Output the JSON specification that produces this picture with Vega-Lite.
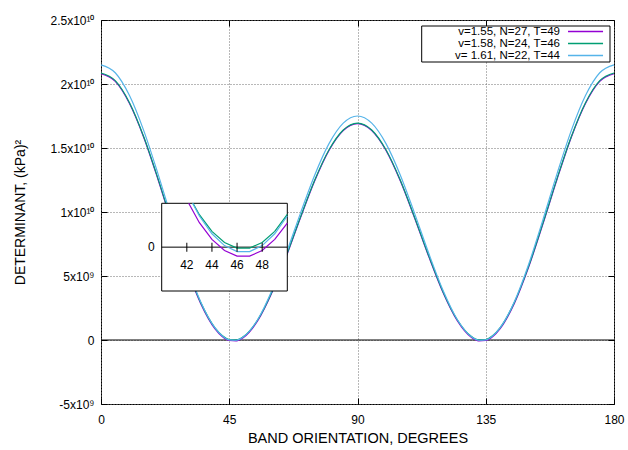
{
  "$schema": "https://vega.github.io/schema/vega-lite/v6.json",
  "width": 513,
  "height": 384,
  "autosize": {"type": "none"},
  "padding": {"left": 101, "top": 20, "right": 14, "bottom": 46},
  "background": "white",
  "config": {
    "font": "Liberation Sans",
    "view": {"stroke": "black", "strokeWidth": 1},
    "axis": {"labelFont": "Liberation Sans", "titleFont": "Liberation Sans", "labelColor": "black", "titleColor": "black", "titleFontWeight": "normal", "tickColor": "black", "domainColor": "black", "labelFlush": false}
  },
  "datasets": {
    "curves": [
      {"theta":0,"det":20.80e9,"series":"v=1.55, N=27, T=49"},{"theta":5,"det":20.20e9,"series":"v=1.55, N=27, T=49"},{"theta":10,"det":18.47e9,"series":"v=1.55, N=27, T=49"},{"theta":15,"det":15.82e9,"series":"v=1.55, N=27, T=49"},{"theta":20,"det":12.54e9,"series":"v=1.55, N=27, T=49"},{"theta":25,"det":9.02e9,"series":"v=1.55, N=27, T=49"},{"theta":30,"det":5.66e9,"series":"v=1.55, N=27, T=49"},{"theta":35,"det":2.84e9,"series":"v=1.55, N=27, T=49"},{"theta":40,"det":0.868e9,"series":"v=1.55, N=27, T=49"},{"theta":42.5,"det":0.274e9,"series":"v=1.55, N=27, T=49"},{"theta":45,"det":-0.04e9,"series":"v=1.55, N=27, T=49"},{"theta":47.5,"det":-0.067e9,"series":"v=1.55, N=27, T=49"},{"theta":50,"det":0.191e9,"series":"v=1.55, N=27, T=49"},{"theta":55,"det":1.503e9,"series":"v=1.55, N=27, T=49"},{"theta":60,"det":3.708e9,"series":"v=1.55, N=27, T=49"},{"theta":65,"det":6.512e9,"series":"v=1.55, N=27, T=49"},{"theta":70,"det":9.551e9,"series":"v=1.55, N=27, T=49"},{"theta":75,"det":12.439e9,"series":"v=1.55, N=27, T=49"},{"theta":80,"det":14.808e9,"series":"v=1.55, N=27, T=49"},{"theta":85,"det":16.36e9,"series":"v=1.55, N=27, T=49"},{"theta":90,"det":16.90e9,"series":"v=1.55, N=27, T=49"},{"theta":95,"det":16.36e9,"series":"v=1.55, N=27, T=49"},{"theta":100,"det":14.808e9,"series":"v=1.55, N=27, T=49"},{"theta":105,"det":12.439e9,"series":"v=1.55, N=27, T=49"},{"theta":110,"det":9.551e9,"series":"v=1.55, N=27, T=49"},{"theta":115,"det":6.512e9,"series":"v=1.55, N=27, T=49"},{"theta":120,"det":3.708e9,"series":"v=1.55, N=27, T=49"},{"theta":125,"det":1.503e9,"series":"v=1.55, N=27, T=49"},{"theta":130,"det":0.191e9,"series":"v=1.55, N=27, T=49"},{"theta":132.5,"det":-0.067e9,"series":"v=1.55, N=27, T=49"},{"theta":135,"det":-0.04e9,"series":"v=1.55, N=27, T=49"},{"theta":137.5,"det":0.274e9,"series":"v=1.55, N=27, T=49"},{"theta":140,"det":0.868e9,"series":"v=1.55, N=27, T=49"},{"theta":145,"det":2.84e9,"series":"v=1.55, N=27, T=49"},{"theta":150,"det":5.66e9,"series":"v=1.55, N=27, T=49"},{"theta":155,"det":9.02e9,"series":"v=1.55, N=27, T=49"},{"theta":160,"det":12.54e9,"series":"v=1.55, N=27, T=49"},{"theta":165,"det":15.82e9,"series":"v=1.55, N=27, T=49"},{"theta":170,"det":18.47e9,"series":"v=1.55, N=27, T=49"},{"theta":175,"det":20.20e9,"series":"v=1.55, N=27, T=49"},{"theta":180,"det":20.80e9,"series":"v=1.55, N=27, T=49"},
      {"theta":0,"det":20.86e9,"series":"v=1.58, N=24, T=46"},{"theta":5,"det":20.26e9,"series":"v=1.58, N=24, T=46"},{"theta":10,"det":18.54e9,"series":"v=1.58, N=24, T=46"},{"theta":15,"det":15.88e9,"series":"v=1.58, N=24, T=46"},{"theta":20,"det":12.61e9,"series":"v=1.58, N=24, T=46"},{"theta":25,"det":9.09e9,"series":"v=1.58, N=24, T=46"},{"theta":30,"det":5.73e9,"series":"v=1.58, N=24, T=46"},{"theta":35,"det":2.92e9,"series":"v=1.58, N=24, T=46"},{"theta":40,"det":0.949e9,"series":"v=1.58, N=24, T=46"},{"theta":42.5,"det":0.353e9,"series":"v=1.58, N=24, T=46"},{"theta":45,"det":0.04e9,"series":"v=1.58, N=24, T=46"},{"theta":47.5,"det":0.013e9,"series":"v=1.58, N=24, T=46"},{"theta":50,"det":0.269e9,"series":"v=1.58, N=24, T=46"},{"theta":55,"det":1.578e9,"series":"v=1.58, N=24, T=46"},{"theta":60,"det":3.778e9,"series":"v=1.58, N=24, T=46"},{"theta":65,"det":6.578e9,"series":"v=1.58, N=24, T=46"},{"theta":70,"det":9.612e9,"series":"v=1.58, N=24, T=46"},{"theta":75,"det":12.496e9,"series":"v=1.58, N=24, T=46"},{"theta":80,"det":14.861e9,"series":"v=1.58, N=24, T=46"},{"theta":85,"det":16.411e9,"series":"v=1.58, N=24, T=46"},{"theta":90,"det":16.95e9,"series":"v=1.58, N=24, T=46"},{"theta":95,"det":16.411e9,"series":"v=1.58, N=24, T=46"},{"theta":100,"det":14.861e9,"series":"v=1.58, N=24, T=46"},{"theta":105,"det":12.496e9,"series":"v=1.58, N=24, T=46"},{"theta":110,"det":9.612e9,"series":"v=1.58, N=24, T=46"},{"theta":115,"det":6.578e9,"series":"v=1.58, N=24, T=46"},{"theta":120,"det":3.778e9,"series":"v=1.58, N=24, T=46"},{"theta":125,"det":1.578e9,"series":"v=1.58, N=24, T=46"},{"theta":130,"det":0.269e9,"series":"v=1.58, N=24, T=46"},{"theta":132.5,"det":0.013e9,"series":"v=1.58, N=24, T=46"},{"theta":135,"det":0.04e9,"series":"v=1.58, N=24, T=46"},{"theta":137.5,"det":0.353e9,"series":"v=1.58, N=24, T=46"},{"theta":140,"det":0.949e9,"series":"v=1.58, N=24, T=46"},{"theta":145,"det":2.92e9,"series":"v=1.58, N=24, T=46"},{"theta":150,"det":5.73e9,"series":"v=1.58, N=24, T=46"},{"theta":155,"det":9.09e9,"series":"v=1.58, N=24, T=46"},{"theta":160,"det":12.61e9,"series":"v=1.58, N=24, T=46"},{"theta":165,"det":15.88e9,"series":"v=1.58, N=24, T=46"},{"theta":170,"det":18.54e9,"series":"v=1.58, N=24, T=46"},{"theta":175,"det":20.26e9,"series":"v=1.58, N=24, T=46"},{"theta":180,"det":20.86e9,"series":"v=1.58, N=24, T=46"},
      {"theta":0,"det":21.50e9,"series":"v= 1.61, N=22, T=44"},{"theta":5,"det":20.88e9,"series":"v= 1.61, N=22, T=44"},{"theta":10,"det":19.10e9,"series":"v= 1.61, N=22, T=44"},{"theta":15,"det":16.36e9,"series":"v= 1.61, N=22, T=44"},{"theta":20,"det":12.98e9,"series":"v= 1.61, N=22, T=44"},{"theta":25,"det":9.35e9,"series":"v= 1.61, N=22, T=44"},{"theta":30,"det":5.88e9,"series":"v= 1.61, N=22, T=44"},{"theta":35,"det":2.97e9,"series":"v= 1.61, N=22, T=44"},{"theta":40,"det":0.941e9,"series":"v= 1.61, N=22, T=44"},{"theta":42.5,"det":0.328e9,"series":"v= 1.61, N=22, T=44"},{"theta":45,"det":0.006e9,"series":"v= 1.61, N=22, T=44"},{"theta":47.5,"det":-0.020e9,"series":"v= 1.61, N=22, T=44"},{"theta":50,"det":0.247e9,"series":"v= 1.61, N=22, T=44"},{"theta":55,"det":1.602e9,"series":"v= 1.61, N=22, T=44"},{"theta":60,"det":3.88e9,"series":"v= 1.61, N=22, T=44"},{"theta":65,"det":6.774e9,"series":"v= 1.61, N=22, T=44"},{"theta":70,"det":9.914e9,"series":"v= 1.61, N=22, T=44"},{"theta":75,"det":12.895e9,"series":"v= 1.61, N=22, T=44"},{"theta":80,"det":15.341e9,"series":"v= 1.61, N=22, T=44"},{"theta":85,"det":16.942e9,"series":"v= 1.61, N=22, T=44"},{"theta":90,"det":17.50e9,"series":"v= 1.61, N=22, T=44"},{"theta":95,"det":16.942e9,"series":"v= 1.61, N=22, T=44"},{"theta":100,"det":15.341e9,"series":"v= 1.61, N=22, T=44"},{"theta":105,"det":12.895e9,"series":"v= 1.61, N=22, T=44"},{"theta":110,"det":9.914e9,"series":"v= 1.61, N=22, T=44"},{"theta":115,"det":6.774e9,"series":"v= 1.61, N=22, T=44"},{"theta":120,"det":3.88e9,"series":"v= 1.61, N=22, T=44"},{"theta":125,"det":1.602e9,"series":"v= 1.61, N=22, T=44"},{"theta":130,"det":0.247e9,"series":"v= 1.61, N=22, T=44"},{"theta":132.5,"det":-0.020e9,"series":"v= 1.61, N=22, T=44"},{"theta":135,"det":0.006e9,"series":"v= 1.61, N=22, T=44"},{"theta":137.5,"det":0.328e9,"series":"v= 1.61, N=22, T=44"},{"theta":140,"det":0.941e9,"series":"v= 1.61, N=22, T=44"},{"theta":145,"det":2.97e9,"series":"v= 1.61, N=22, T=44"},{"theta":150,"det":5.88e9,"series":"v= 1.61, N=22, T=44"},{"theta":155,"det":9.35e9,"series":"v= 1.61, N=22, T=44"},{"theta":160,"det":12.98e9,"series":"v= 1.61, N=22, T=44"},{"theta":165,"det":16.36e9,"series":"v= 1.61, N=22, T=44"},{"theta":170,"det":19.10e9,"series":"v= 1.61, N=22, T=44"},{"theta":175,"det":20.88e9,"series":"v= 1.61, N=22, T=44"},{"theta":180,"det":21.50e9,"series":"v= 1.61, N=22, T=44"}
    ],
    "inset": [
      {"theta":42.15,"det":4.0e8,"series":"v=1.55, N=27, T=49"},{"theta":43,"det":2.23e8,"series":"v=1.55, N=27, T=49"},{"theta":44,"det":0.71e8,"series":"v=1.55, N=27, T=49"},{"theta":45,"det":-0.31e8,"series":"v=1.55, N=27, T=49"},{"theta":46,"det":-0.82e8,"series":"v=1.55, N=27, T=49"},{"theta":47,"det":-0.82e8,"series":"v=1.55, N=27, T=49"},{"theta":48,"det":-0.31e8,"series":"v=1.55, N=27, T=49"},{"theta":49,"det":0.71e8,"series":"v=1.55, N=27, T=49"},{"theta":50,"det":2.2e8,"series":"v=1.55, N=27, T=49"},
      {"theta":42.49,"det":4.0e8,"series":"v=1.58, N=24, T=46"},{"theta":43,"det":2.96e8,"series":"v=1.58, N=24, T=46"},{"theta":44,"det":1.44e8,"series":"v=1.58, N=24, T=46"},{"theta":45,"det":0.43e8,"series":"v=1.58, N=24, T=46"},{"theta":46,"det":-0.08e8,"series":"v=1.58, N=24, T=46"},{"theta":47,"det":-0.08e8,"series":"v=1.58, N=24, T=46"},{"theta":48,"det":0.43e8,"series":"v=1.58, N=24, T=46"},{"theta":49,"det":1.44e8,"series":"v=1.58, N=24, T=46"},{"theta":50,"det":2.98e8,"series":"v=1.58, N=24, T=46"},
      {"theta":42.46,"det":4.0e8,"series":"v= 1.61, N=22, T=44"},{"theta":43,"det":2.84e8,"series":"v= 1.61, N=22, T=44"},{"theta":44,"det":1.22e8,"series":"v= 1.61, N=22, T=44"},{"theta":45,"det":0.14e8,"series":"v= 1.61, N=22, T=44"},{"theta":46,"det":-0.40e8,"series":"v= 1.61, N=22, T=44"},{"theta":47,"det":-0.40e8,"series":"v= 1.61, N=22, T=44"},{"theta":48,"det":0.14e8,"series":"v= 1.61, N=22, T=44"},{"theta":49,"det":1.22e8,"series":"v= 1.61, N=22, T=44"},{"theta":50,"det":2.84e8,"series":"v= 1.61, N=22, T=44"}
    ],
    "ticks": [{"t":42},{"t":44},{"t":46},{"t":48}],
    "keys": [{"series":"v=1.55, N=27, T=49"},{"series":"v=1.58, N=24, T=46"},{"series":"v= 1.61, N=22, T=44"}]
  },
  "layer": [
    {
      "data": {"values": [{}]},
      "mark": {"type": "rule", "color": "black", "strokeWidth": 1},
      "encoding": {
        "x": {"datum": 0, "type": "quantitative", "scale": {"domain": [0, 180], "nice": false, "zero": false},
              "axis": {"orient": "top", "values": [0, 45, 90, 135, 180], "labels": false, "tickSize": -6, "domain": false, "grid": false, "title": null}},
        "x2": {"datum": 180},
        "y": {"datum": 0, "type": "quantitative", "scale": {"domain": [-5e9, 2.5e10], "nice": false, "zero": false},
              "axis": {"orient": "right", "values": [-5e9, 0, 5e9, 1e10, 1.5e10, 2e10, 2.5e10], "labels": false, "tickSize": -6, "domain": false, "grid": false, "title": null}}
      }
    },
    {
      "data": {"name": "curves"},
      "mark": {"type": "line", "interpolate": "monotone", "strokeWidth": 1.2},
      "encoding": {
        "x": {"field": "theta", "type": "quantitative", "scale": {"domain": [0, 180], "nice": false, "zero": false},
              "axis": {"orient": "bottom", "values": [0, 45, 90, 135, 180], "grid": true, "gridDash": [1, 2], "gridColor": "#707070", "tickSize": -6, "domain": false, "labelFontSize": 12, "labelPadding": 16, "title": "BAND ORIENTATION, DEGREES", "titleFontSize": 14.5, "titlePadding": 6}},
        "y": {"field": "det", "type": "quantitative", "scale": {"domain": [-5e9, 2.5e10], "nice": false, "zero": false},
              "axis": {"orient": "left", "values": [-5e9, 0, 5e9, 1e10, 1.5e10, 2e10, 2.5e10], "grid": true, "gridDash": [1, 2], "gridColor": "#707070", "tickSize": -6, "domain": false, "labelFontSize": 12, "labelPadding": 13,
                       "labelExpr": "datum.value == 0 ? '0' : datum.value == -5e9 ? '-5x10⁹' : datum.value == 5e9 ? '5x10⁹' : datum.value == 1e10 ? '1x10¹⁰' : datum.value == 1.5e10 ? '1.5x10¹⁰' : datum.value == 2e10 ? '2x10¹⁰' : '2.5x10¹⁰'",
                       "title": "DETERMINANT, (kPa)²", "titleFontSize": 14, "titlePadding": 22}},
        "color": {"field": "series", "type": "nominal",
                  "scale": {"domain": ["v=1.55, N=27, T=49", "v=1.58, N=24, T=46", "v= 1.61, N=22, T=44"], "range": ["#9400d3", "#009e73", "#56b4e9"]},
                  "legend": null}
      }
    },
    {
      "layer": [
        {
          "data": {"values": [{}]},
          "mark": {"type": "rect", "fill": "white", "stroke": "black", "strokeWidth": 1},
          "encoding": {
            "x": {"datum": 40, "type": "quantitative", "scale": {"domain": [40, 50], "range": [60.7, 186.3], "nice": false, "zero": false}, "axis": null},
            "x2": {"datum": 50},
            "y": {"datum": -4e8, "type": "quantitative", "scale": {"domain": [-4e8, 4e8], "range": [271, 183.3], "nice": false, "zero": false}, "axis": null},
            "y2": {"datum": 4e8}
          }
        },
        {
          "data": {"values": [{}]},
          "mark": {"type": "rule", "color": "black", "strokeWidth": 1},
          "encoding": {
            "x": {"datum": 40, "type": "quantitative", "scale": {"domain": [40, 50], "range": [60.7, 186.3], "nice": false, "zero": false}, "axis": null},
            "x2": {"datum": 50},
            "y": {"datum": 0, "type": "quantitative", "scale": {"domain": [-4e8, 4e8], "range": [271, 183.3], "nice": false, "zero": false}, "axis": null}
          }
        },
        {
          "data": {"name": "inset"},
          "mark": {"type": "line", "strokeWidth": 1.2},
          "encoding": {
            "x": {"field": "theta", "type": "quantitative", "scale": {"domain": [40, 50], "range": [60.7, 186.3], "nice": false, "zero": false}, "axis": null},
            "y": {"field": "det", "type": "quantitative", "scale": {"domain": [-4e8, 4e8], "range": [271, 183.3], "nice": false, "zero": false}, "axis": null},
            "color": {"field": "series", "type": "nominal", "legend": null}
          }
        },
        {
          "data": {"name": "ticks"},
          "mark": {"type": "tick", "orient": "vertical", "size": 9, "thickness": 1, "color": "black", "opacity": 1},
          "encoding": {
            "x": {"field": "t", "type": "quantitative", "scale": {"domain": [40, 50], "range": [60.7, 186.3], "nice": false, "zero": false}, "axis": null},
            "y": {"datum": 0, "type": "quantitative", "scale": {"domain": [-4e8, 4e8], "range": [271, 183.3], "nice": false, "zero": false}, "axis": null}
          }
        },
        {
          "data": {"name": "ticks"},
          "mark": {"type": "text", "fontSize": 12, "font": "Liberation Sans", "color": "black", "baseline": "middle", "align": "center", "dy": 18},
          "encoding": {
            "x": {"field": "t", "type": "quantitative", "scale": {"domain": [40, 50], "range": [60.7, 186.3], "nice": false, "zero": false}, "axis": null},
            "y": {"datum": 0, "type": "quantitative", "scale": {"domain": [-4e8, 4e8], "range": [271, 183.3], "nice": false, "zero": false}, "axis": null},
            "text": {"field": "t", "type": "quantitative"}
          }
        },
        {
          "data": {"values": [{"label": "0"}]},
          "mark": {"type": "text", "fontSize": 12, "font": "Liberation Sans", "color": "black", "baseline": "middle", "align": "right", "dx": -7},
          "encoding": {
            "x": {"datum": 40, "type": "quantitative", "scale": {"domain": [40, 50], "range": [60.7, 186.3], "nice": false, "zero": false}, "axis": null},
            "y": {"datum": 0, "type": "quantitative", "scale": {"domain": [-4e8, 4e8], "range": [271, 183.3], "nice": false, "zero": false}, "axis": null},
            "text": {"field": "label", "type": "nominal"}
          }
        }
      ]
    },
    {
      "layer": [
        {
          "data": {"values": [{}]},
          "mark": {"type": "rect", "fill": "white", "stroke": "black", "strokeWidth": 1, "yOffset": -5.5, "y2Offset": 6.5},
          "encoding": {
            "x": {"datum": 0, "type": "quantitative", "scale": {"domain": [0, 1], "range": [320.7, 509], "nice": false, "zero": false}, "axis": null},
            "x2": {"datum": 1},
            "y": {"datum": "v=1.55, N=27, T=49", "type": "nominal", "scale": {"type": "point", "domain": ["v=1.55, N=27, T=49", "v=1.58, N=24, T=46", "v= 1.61, N=22, T=44"], "range": [11.5, 35.5], "padding": 0}, "axis": null},
            "y2": {"datum": "v= 1.61, N=22, T=44"}
          }
        },
        {
          "data": {"name": "keys"},
          "mark": {"type": "text", "fontSize": 11.5, "font": "Liberation Sans", "color": "black", "align": "right", "baseline": "middle"},
          "encoding": {
            "x": {"datum": 0.7345, "type": "quantitative", "scale": {"domain": [0, 1], "range": [320.7, 509], "nice": false, "zero": false}, "axis": null},
            "y": {"field": "series", "type": "nominal", "scale": {"type": "point", "domain": ["v=1.55, N=27, T=49", "v=1.58, N=24, T=46", "v= 1.61, N=22, T=44"], "range": [11.5, 35.5], "padding": 0}, "axis": null},
            "text": {"field": "series", "type": "nominal"}
          }
        },
        {
          "data": {"name": "keys"},
          "mark": {"type": "rule", "strokeWidth": 1.5},
          "encoding": {
            "x": {"datum": 0.777, "type": "quantitative", "scale": {"domain": [0, 1], "range": [320.7, 509], "nice": false, "zero": false}, "axis": null},
            "x2": {"datum": 0.963},
            "y": {"field": "series", "type": "nominal", "scale": {"type": "point", "domain": ["v=1.55, N=27, T=49", "v=1.58, N=24, T=46", "v= 1.61, N=22, T=44"], "range": [11.5, 35.5], "padding": 0}, "axis": null},
            "color": {"field": "series", "type": "nominal", "legend": null}
          }
        }
      ]
    }
  ],
  "resolve": {"scale": {"x": "independent", "y": "independent"}}
}
